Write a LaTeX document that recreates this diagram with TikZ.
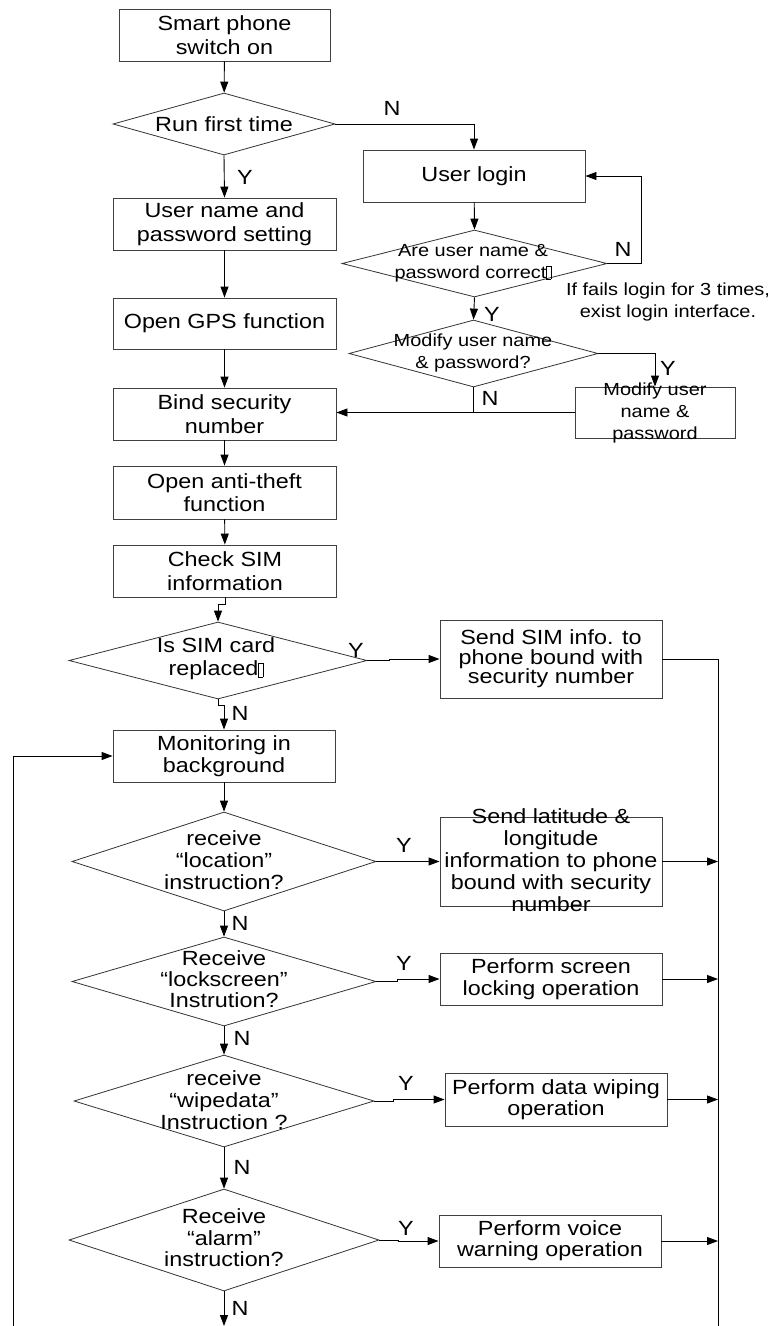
\documentclass[tikz,border=0pt]{standalone}
\usepackage{fontspec}
\setmainfont[FakeStretch=1.14]{Liberation Sans}
\usetikzlibrary{arrows.meta,shapes.geometric}
\newcommand\mainsz{\fontsize{20.5}{23.5}\selectfont}
\newcommand\lowsz{\fontsize{20.5}{22}\selectfont}
\newcommand\tightsz{\fontsize{20.5}{19.5}\selectfont}
\newcommand\smallsz{\fontsize{17.5}{22}\selectfont}
\newcommand\tofubox{{\setlength\fboxsep{0pt}\setlength\fboxrule{0.5pt}\raisebox{-1pt}{\fbox{\rule{0pt}{13pt}\hspace{4pt}}}}}
\begin{document}
\begin{tikzpicture}[x=1pt,y=-1pt,
 box/.style={draw=black!75, line width=0.9pt, rectangle, inner sep=0pt, align=center, font=\mainsz},
 lowbox/.style={box, font=\lowsz},
 dia/.style={draw=black!80, line width=0.8pt, diamond, inner sep=0pt},
 lbl/.style={inner sep=0pt, align=center, font=\mainsz},
 lowlbl/.style={lbl, font=\lowsz},
 smalllbl/.style={inner sep=0pt, align=center, font=\smallsz},
 con/.style={draw=black, line width=0.9pt},
 arr/.style={con, -{Triangle[length=11pt,width=8pt]}},
 yn/.style={inner sep=0pt, font=\mainsz}
]
\useasboundingbox (0,0) rectangle (768,1326);

% main column
\node[box, minimum width=211, minimum height=52] (start) at (224.5,35) {Smart phone\\switch on};
\node[dia, minimum width=222, minimum height=62] (d1) at (224,124) {};
\node[lbl] (t1) at (d1) {Run first time};
\node[box, minimum width=223, minimum height=52] (setpw) at (224.5,224) {User name and\\password setting};
\node[box, minimum width=223, minimum height=51] (gps) at (224.5,323.5) {Open GPS function};
\node[box, minimum width=223, minimum height=52] (bind) at (224.5,414) {Bind security\\number};
\node[box, minimum width=223, minimum height=53] (anti) at (224.5,492.5) {Open anti-theft\\function};
\node[box, minimum width=223, minimum height=52] (check) at (225,571) {Check SIM\\information};
\node[dia, minimum width=298, minimum height=77] (dsim) at (218,660.5) {};
\node[lbl] (tsim) at (216,658.5) {Is SIM card\\replaced\tofubox};
\node[box, font=\tightsz, minimum width=222, minimum height=78] (sendsim) at (551,659) {Send SIM info. to\\phone bound with\\security number};
\node[lowbox, minimum width=222, minimum height=52] (mon) at (224,756) {Monitoring in\\background};
\node[dia, minimum width=304, minimum height=99] (dloc) at (224,861.5) {};
\node[lowlbl] (tloc) at (224,860) {receive\\“location”\\instruction?};
\node[box, minimum width=222, minimum height=89] (locbox) at (551,861.5) {};
\node[lowlbl] (tlocbox) at (551,860) {Send latitude \&\\longitude\\information to phone\\bound with security\\number};
\node[dia, minimum width=304, minimum height=89] (dlock) at (224,981.5) {};
\node[lbl, font=\fontsize{20.5}{21}\selectfont] (tlock) at (224,979) {Receive\\“lockscreen”\\Instrution?};
\node[lowbox, minimum width=222, minimum height=52] (lockbox) at (551,979) {Perform screen\\locking operation};
\node[dia, minimum width=300, minimum height=92] (dwipe) at (224,1101) {};
\node[lowlbl] (twipe) at (224,1100) {receive\\“wipedata”\\Instruction ?};
\node[box, font=\fontsize{20.5}{21}\selectfont, minimum width=222, minimum height=53] (wipebox) at (556,1099.5) {Perform data wiping\\operation};
\node[dia, minimum width=310, minimum height=102] (dalarm) at (224,1240) {};
\node[lbl, font=\fontsize{20.5}{21.5}\selectfont] (talarm) at (224,1238) {Receive\\“alarm”\\instruction?};
\node[box, font=\fontsize{20.5}{21}\selectfont, minimum width=222, minimum height=52] (voicebox) at (550,1241) {Perform voice\\warning operation};

% right branch
\node[box, minimum width=222, minimum height=52] (login) at (474,176) {User login};
\node[dia, minimum width=265, minimum height=67] (dcorr) at (474.5,263.5) {};
\node[smalllbl] (tcorr) at (473,263) {Are user name \&\\password correct\tofubox};
\node[dia, minimum width=249, minimum height=67] (dmod) at (473.5,353.5) {};
\node[smalllbl] (tmod) at (473,353) {Modify user name\\\& password?};
\node[box, minimum width=160, minimum height=51] (modbox) at (655,412.5) {};
\node[smalllbl] (tmodbox) at (655,413) {Modify user\\name \&\\password};
\node[smalllbl] (note) at (668,302) {If fails login for 3 times,\\exist login interface.};

% free ends
\coordinate (rbot) at (718,1326);
\coordinate (lbot) at (13,1326);
\coordinate (endc) at (224,1326);

% main connectors
\draw[arr] (start) -- (d1);
\draw[arr] (d1.east) -| (login.north);
\node[yn] (n1) at (392,108) {N};
\draw[arr] (d1.south) -- (setpw.north);
\node[yn] (y1) at (245,177) {Y};
\draw[arr] (setpw) -- (gps);
\draw[arr] (gps) -- (bind);
\draw[arr] (bind) -- (anti);
\draw[arr] (anti) -- (check);
\draw[arr] (check.south) -- ++(0,7) -| (dsim.north);
\draw[arr] (dsim.east) -- ++(22,0) |- (sendsim.west);
\node[yn] (ysim) at (356,650) {Y};
\draw[con] (sendsim.east) -| (rbot);
\draw[arr] (dsim.south) -- ++(0,6) -| (mon.north);
\node[yn] (nsim) at (240,713) {N};
\draw[arr] (lbot) |- (mon.west);
\draw[arr] (mon) -- (dloc.north);
\draw[arr] (dloc.east) -- (locbox.west);
\node[yn] (yloc) at (404,845) {Y};
\draw[arr] (locbox.east) -- (locbox.east -| rbot);
\draw[arr] (dloc.south) -- (dlock.north);
\node[yn] (nloc) at (240,923) {N};
\draw[arr] (dlock.east) -- ++(21,0) |- (lockbox.west);
\node[yn] (ylock) at (404,963) {Y};
\draw[arr] (lockbox.east) -- (lockbox.east -| rbot);
\draw[arr] (dlock.south) -- (dwipe.north);
\node[yn] (nlock) at (242,1038) {N};
\draw[arr] (dwipe.east) -- ++(19,0) |- (wipebox.west);
\node[yn] (ywipe) at (406,1083) {Y};
\draw[arr] (wipebox.east) -- (wipebox.east -| rbot);
\draw[arr] (dwipe.south) -- (dalarm.north);
\node[yn] (nwipe) at (242,1167) {N};
\draw[arr] (dalarm.east) -- ++(19,0) |- (voicebox.west);
\node[yn] (yalarm) at (406,1228) {Y};
\draw[arr] (voicebox.east) -- (voicebox.east -| rbot);
\draw[arr] (dalarm.south) -- (endc);
\node[yn] (nalarm) at (240,1308) {N};

% right branch connectors
\draw[arr] (login) -- (dcorr.north);
\draw[arr] (dcorr.east) -- ++(34,0) |- (login.east);
\node[yn] (ncorr) at (623,249) {N};
\draw[arr] (dcorr.south) -- (dmod.north);
\node[yn] (ycorr) at (492,314) {Y};
\draw[arr] (dmod.east) -| (modbox.north);
\node[yn] (ymod) at (668,368) {Y};
\draw[arr] (modbox.west) -- (modbox.west -| bind.east);
\draw[con] (dmod.south) -- (dmod.south |- modbox.west);
\node[yn] (nmod) at (490,398) {N};
\end{tikzpicture}
\end{document}
